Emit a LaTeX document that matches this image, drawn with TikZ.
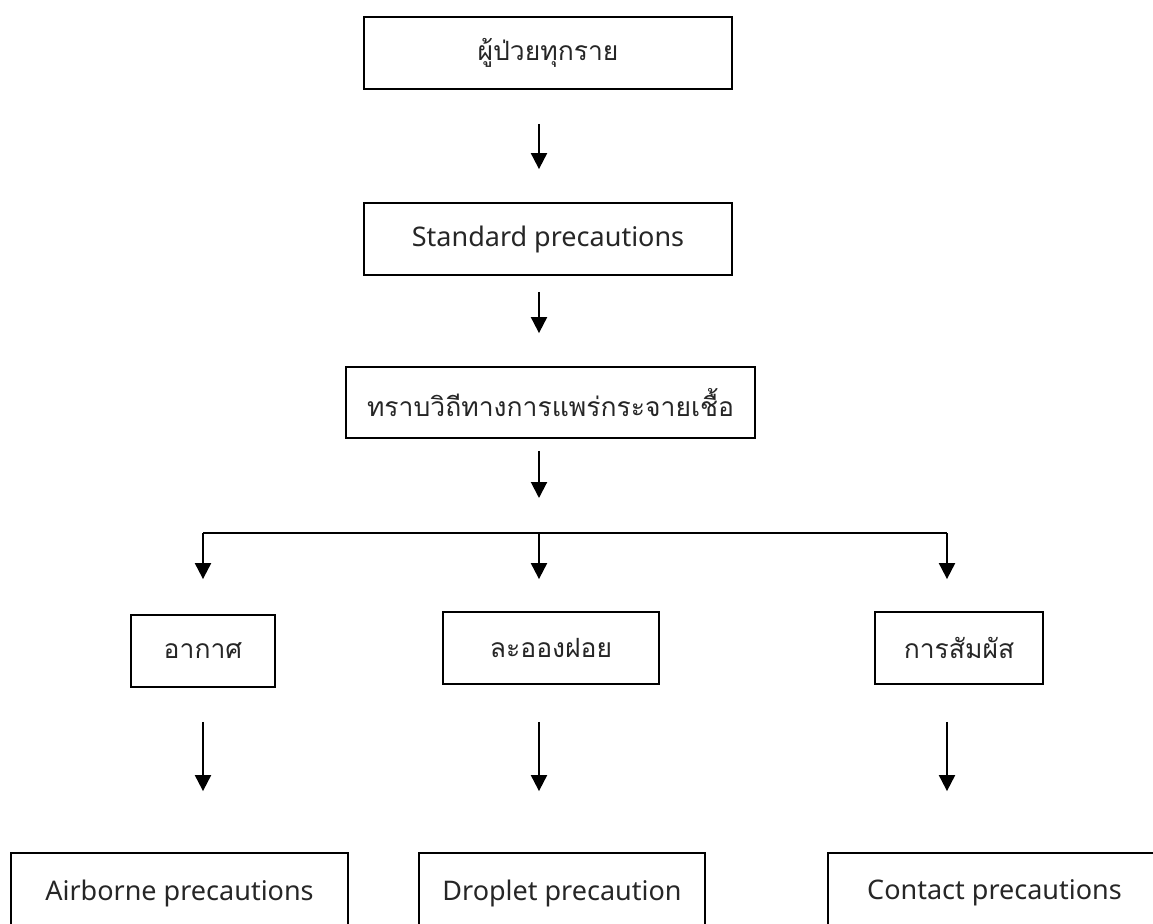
\documentclass[tikz,border=0pt]{standalone}
\usepackage{fontspec}
\setmainfont{Noto Sans}
\newfontfamily\thai[Script=Thai]{Loma}
\usetikzlibrary{arrows.meta}
\tikzset{
  box/.style={draw, line width=1.8pt, minimum height=72pt, inner sep=0pt, font=\fontsize{27}{32}\selectfont, text=black!85},
  tbox/.style={box, font=\thai\fontsize{26.5}{32}\selectfont},
  arr/.style={line width=2pt, -{Triangle[length=16pt,width=16pt]}},
  ln/.style={line width=2pt}
}
\begin{document}
\begin{tikzpicture}[x=1pt,y=-1pt]
\useasboundingbox (0,0) rectangle (1153,923);
\clip (0,0) rectangle (1153,923);
\node[tbox, minimum width=368pt] (top) at (548,53) {ผู้ป่วยทุกราย};
\node[box, minimum width=368pt] (std) at (548,239) {Standard precautions};
\node[tbox, minimum width=409pt, minimum height=71pt] (know) at (550.5,402.5) {ทราบวิถีทางการแพร่กระจายเชื้อ};
\node[tbox, minimum width=144pt] (air) at (203,651) {อากาศ};
\node[tbox, minimum width=216pt] (drop) at (551,648) {ละอองฝอย};
\node[tbox, minimum width=168pt] (cont) at (959,648) {การสัมผัส};
\node[box, minimum width=337pt, minimum height=80pt] (airp) at (179.5,893) {Airborne precautions};
\node[box, minimum width=286pt, minimum height=80pt] (dropp) at (562,893) {Droplet precaution};
\node[box, minimum width=333pt, minimum height=80pt] (contp) at (994.5,893) {Contact precautions};
\coordinate (cm) at (539,0);
\coordinate (cl) at (203,0);
\coordinate (cr) at (947,0);
\coordinate (hl) at (203,533);
\coordinate (hr) at (947,533);
\coordinate (hm) at (539,533);
\draw[arr, shorten <=34pt, shorten >=33pt] (top.south -| cm) -- (std.north -| cm);
\draw[arr, shorten <=16pt, shorten >=33pt] (std.south -| cm) -- (know.north -| cm);
\draw[arr, shorten <=12pt, shorten >=0pt] (know.south -| cm) -- (hm |- 0,498);
\draw[ln] (hl) -- (hr);
\draw[arr, shorten >=35pt] (hl) -- (air.north -| cl);
\draw[arr, shorten >=32pt] (hm) -- (drop.north -| cm);
\draw[arr, shorten >=32pt] (hr) -- (cont.north -| cr);
\draw[arr, shorten <=34pt, shorten >=61pt] (air.south -| cl) -- (airp.north -| cl);
\draw[arr, shorten <=37pt, shorten >=61pt] (drop.south -| cm) -- (dropp.north -| cm);
\draw[arr, shorten <=37pt, shorten >=61pt] (cont.south -| cr) -- (contp.north -| cr);
\end{tikzpicture}
\end{document}
